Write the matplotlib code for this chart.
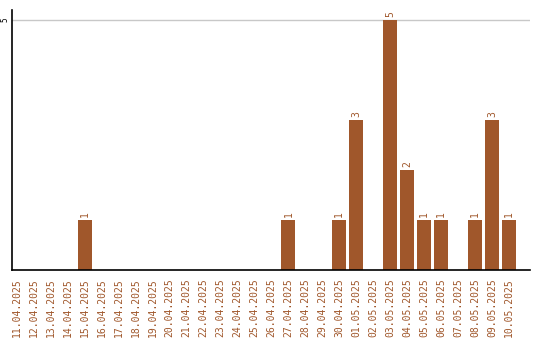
import matplotlib
matplotlib.use("Agg")
import matplotlib.pyplot as plt
import numpy as np

# --- data ---
dates = ["11.04.2025", "12.04.2025", "13.04.2025", "14.04.2025", "15.04.2025",
         "16.04.2025", "17.04.2025", "18.04.2025", "19.04.2025", "20.04.2025",
         "21.04.2025", "22.04.2025", "23.04.2025", "24.04.2025", "25.04.2025",
         "26.04.2025", "27.04.2025", "28.04.2025", "29.04.2025", "30.04.2025",
         "01.05.2025", "02.05.2025", "03.05.2025", "04.05.2025", "05.05.2025",
         "06.05.2025", "07.05.2025", "08.05.2025", "09.05.2025", "10.05.2025"]
counts = [0, 0, 0, 0, 1, 0, 0, 0, 0, 0,
          0, 0, 0, 0, 0, 0, 1, 0, 0, 1,
          3, 0, 5, 2, 1, 1, 0, 1, 3, 1]

brown = "#a0572b"
mono = "DejaVu Sans Mono"

fig = plt.figure(figsize=(5.4, 3.4), dpi=100)
ax = fig.add_axes([0.0222, 0.2059, 0.9593, 0.7647])

x = np.arange(len(dates))
ax.bar(x, counts, width=0.82, color=brown, zorder=2)

for xi, c in zip(x, counts):
    if c > 0:
        ax.text(xi, c + 0.05, str(c), rotation=90, ha="center", va="bottom",
                fontsize=7, color=brown, family=mono)

ax.set_xlim(-0.29, len(dates) - 1 + 1.24)
ax.set_ylim(0, 5.2)
ax.set_yticks([5])
ax.set_yticklabels(["5"], rotation=90, va="center", fontsize=5.5, family=mono)
ax.tick_params(axis="y", length=0, pad=1.5)
ax.yaxis.grid(True, color="#c8c8c8", linewidth=1, zorder=0)

ax.set_xticks(x)
ax.set_xticklabels(dates, rotation=90, fontsize=7, color=brown, family=mono)
ax.tick_params(axis="x", length=0, pad=6)

for s in ["top", "right"]:
    ax.spines[s].set_visible(False)
ax.spines["left"].set_linewidth(1.2)
ax.spines["bottom"].set_linewidth(1.2)

fig.savefig("out.png", dpi=100)
